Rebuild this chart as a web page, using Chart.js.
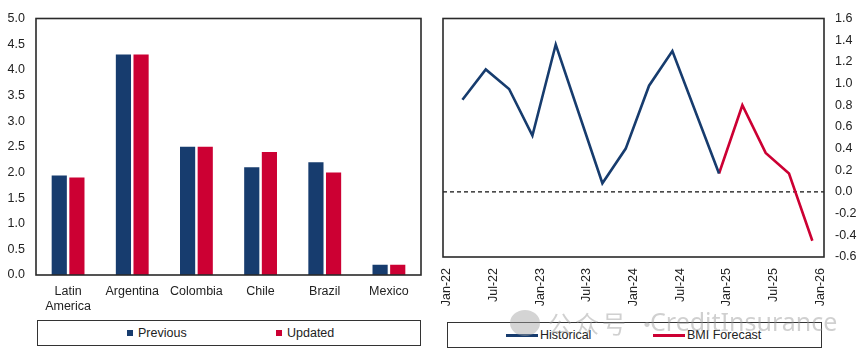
<!DOCTYPE html>
<html>
<head>
<meta charset="utf-8">
<script src="https://cdn.jsdelivr.net/npm/chart.js@4/dist/chart.umd.min.js"></script>
<style>
  html, body { margin:0; padding:0; background:#fff; }
  body { width:865px; height:358px; position:relative; overflow:hidden; font-family:"Liberation Sans", Arial, sans-serif; color:#222; }
  .wrap { position:absolute; top:0; }
  .legend { position:absolute; border:1.5px solid #333; box-sizing:border-box; font-size:12.5px; color:#222; }
  .item { position:absolute; top:50%; transform:translateY(-50%); white-space:nowrap; display:flex; align-items:center; }
  .sq { display:inline-block; width:6px; height:6px; margin-right:5px; }
  .ln { display:inline-block; width:32px; height:3px; margin-right:2px; }
  .wm { position:absolute; color:rgba(150,150,150,0.45); white-space:nowrap; z-index:5; line-height:1; }
  .ic { position:absolute; left:510px; top:310px; width:30px; height:26px; border-radius:50%; background:rgba(160,160,160,0.45); z-index:5; }
</style>
</head>
<body>
<div class="wrap" style="left:0;width:430px;height:318px;"><canvas id="c1" width="430" height="318"></canvas></div>
<div class="wrap" style="left:430px;width:435px;height:318px;"><canvas id="c2" width="435" height="318"></canvas></div>

<div class="legend" style="left:37px;top:320px;width:384px;height:26px;">
  <div class="item" style="left:89px;"><span class="sq" id="sq1"></span><span id="lg1"></span></div>
  <div class="item" style="left:238px;"><span class="sq" id="sq2"></span><span id="lg2"></span></div>
</div>
<div class="legend" style="left:447px;top:322px;width:375px;height:26px;">
  <div class="item" style="left:58px;"><span class="ln" id="ln1"></span><span id="lg3"></span></div>
  <div class="item" style="left:205px;"><span class="ln" id="ln2"></span><span id="lg4"></span></div>
</div>
<div class="ic"></div>
<div class="wm" style="left:548px;top:311px;font-family:'Noto Sans CJK SC';font-size:24px;letter-spacing:3px;">公众号</div>
<div class="wm" style="left:635px;top:311px;font-family:'Noto Sans CJK SC';font-size:24px;">·</div>
<div class="wm" style="left:650px;top:309px;font-family:'Noto Sans', sans-serif;font-size:25px;">CreditInsurance</div>

<script>
// ---------- Data ----------
const countries = [['Latin','America'], 'Argentina', 'Colombia', 'Chile', 'Brazil', 'Mexico'];
const previousValues = [1.94, 4.3, 2.5, 2.1, 2.2, 0.2];
const updatedValues  = [1.90, 4.3, 2.5, 2.4, 2.0, 0.2];
const barSeriesNames = ['Previous', 'Updated'];

const quarters = ['Mar-22','Jun-22','Sep-22','Dec-22','Mar-23','Jun-23','Sep-23','Dec-23',
                  'Mar-24','Jun-24','Sep-24','Dec-24','Mar-25','Jun-25','Sep-25','Dec-25'];
const historicalValues = [0.85, 1.13, 0.95, 0.52, 1.36, null, 0.08, 0.40,
                          0.98, 1.30, null, 0.17, null, null, null, null];
const forecastValues   = [null, null, null, null, null, null, null, null,
                          null, null, null, 0.17, 0.80, 0.36, 0.17, -0.45];
const lineSeriesNames = ['Historical', 'BMI Forecast'];
const dateTickLabels = ['Jan-22','Jul-22','Jan-23','Jul-23','Jan-24','Jul-24','Jan-25','Jul-25','Jan-26'];

// ---------- Styling ----------
const NAVY = '#173c6e';
const RED = '#cc0033';
const FONT = { family: '"Liberation Sans", Arial, sans-serif', size: 12.5 };
const TXT = '#222';

const MONTHS = ['Jan','Feb','Mar','Apr','May','Jun','Jul','Aug','Sep','Oct','Nov','Dec'];
function monthIndex(lbl) { // months since Jan-22
  const [m, y] = lbl.split('-');
  return (parseInt(y, 10) - 22) * 12 + MONTHS.indexOf(m);
}

const boxPlugin = {
  id: 'boxPlugin',
  beforeDatasetsDraw(chart, args, opts) {
    const { ctx, chartArea: a } = chart;
    if (opts.zeroLine) {
      const y = chart.scales.y.getPixelForValue(0);
      ctx.save();
      ctx.strokeStyle = '#111';
      ctx.lineWidth = 1.3;
      ctx.setLineDash([4, 3]);
      ctx.beginPath(); ctx.moveTo(a.left, y); ctx.lineTo(a.right, y); ctx.stroke();
      ctx.restore();
    }
  },
  afterDraw(chart) {
    const { ctx, chartArea: a } = chart;
    ctx.save();
    ctx.strokeStyle = '#2a2a2a';
    ctx.lineWidth = 1.6;
    ctx.strokeRect(a.left, a.top, a.right - a.left, a.bottom - a.top);
    ctx.restore();
  }
};

// ---------- Left: bar chart ----------
new Chart(document.getElementById('c1'), {
  type: 'bar',
  data: {
    labels: countries,
    datasets: [
      { label: barSeriesNames[0], data: previousValues, backgroundColor: NAVY, categoryPercentage: 0.55, barPercentage: 0.86 },
      { label: barSeriesNames[1], data: updatedValues, backgroundColor: RED, categoryPercentage: 0.55, barPercentage: 0.86 }
    ]
  },
  options: {
    responsive: false, animation: false,
    layout: { padding: { top: 17, right: 9, left: 0, bottom: 0 } },
    plugins: { legend: { display: false }, tooltip: { enabled: false }, boxPlugin: { zeroLine: false } },
    scales: {
      x: {
        grid: { display: false }, border: { display: false },
        ticks: { font: FONT, color: TXT, maxRotation: 0, autoSkip: false, padding: 1 },
        afterFit(s) { s.height = 43; }
      },
      y: {
        min: 0, max: 5,
        grid: { display: false, drawTicks: false }, border: { display: false },
        ticks: { stepSize: 0.5, font: FONT, color: TXT, padding: 11, callback: v => v.toFixed(1) },
        afterFit(s) { s.width = 36; }
      }
    }
  },
  plugins: [boxPlugin]
});

// ---------- Right: line chart ----------
const qx = quarters.map(monthIndex);
const tickMonths = dateTickLabels.map(monthIndex);
new Chart(document.getElementById('c2'), {
  type: 'line',
  data: {
    datasets: [
      { label: lineSeriesNames[0], data: qx.map((x, i) => ({ x, y: historicalValues[i] })), borderColor: NAVY, borderWidth: 2.6, pointRadius: 0, spanGaps: true, tension: 0 },
      { label: lineSeriesNames[1], data: qx.map((x, i) => ({ x, y: forecastValues[i] })), borderColor: RED, borderWidth: 2.6, pointRadius: 0, spanGaps: true, tension: 0 }
    ]
  },
  options: {
    responsive: false, animation: false,
    layout: { padding: { top: 17, right: 0, left: 13, bottom: 0 } },
    plugins: { legend: { display: false }, tooltip: { enabled: false }, boxPlugin: { zeroLine: true } },
    scales: {
      x: {
        type: 'linear', min: tickMonths[0] - 0.5, max: tickMonths[tickMonths.length - 1] + 0.5,
        grid: { display: false }, border: { display: false },
        afterBuildTicks(s) { s.ticks = tickMonths.map(v => ({ value: v })); },
        ticks: { font: FONT, color: TXT, minRotation: 90, maxRotation: 90, autoSkip: false, padding: 3,
                 callback: v => dateTickLabels[tickMonths.indexOf(v)] },
        afterFit(s) { s.height = 61; }
      },
      y: {
        position: 'right', min: -0.6, max: 1.6,
        grid: { display: false, drawTicks: false }, border: { display: false },
        ticks: { stepSize: 0.2, font: FONT, color: TXT, padding: 11,
                 callback: v => (Math.abs(v) < 1e-9 ? 0 : v).toFixed(1) },
        afterFit(s) { s.width = 41; }
      }
    }
  },
  plugins: [boxPlugin]
});

// ---------- Legends ----------
document.getElementById('sq1').style.background = NAVY;
document.getElementById('sq2').style.background = RED;
document.getElementById('lg1').textContent = barSeriesNames[0];
document.getElementById('lg2').textContent = barSeriesNames[1];
document.getElementById('ln1').style.background = NAVY;
document.getElementById('ln2').style.background = RED;
document.getElementById('lg3').textContent = lineSeriesNames[0];
document.getElementById('lg4').textContent = lineSeriesNames[1];
</script>
</body>
</html>
